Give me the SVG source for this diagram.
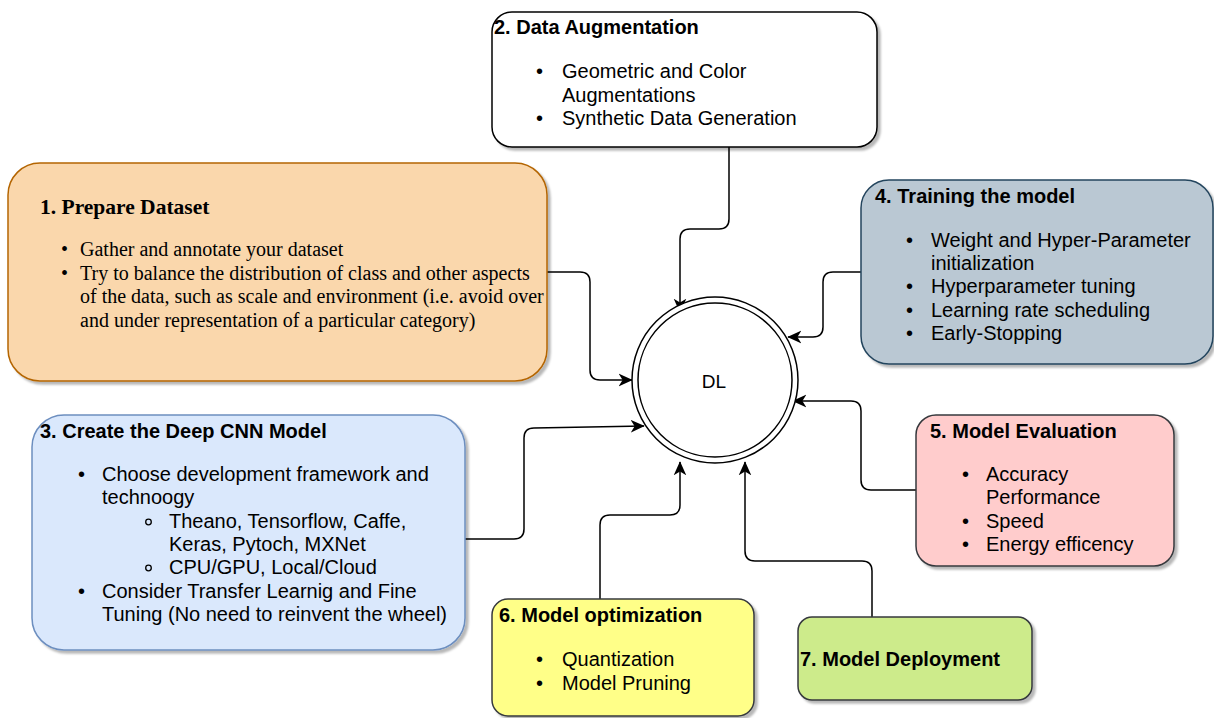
<svg xmlns="http://www.w3.org/2000/svg" width="1214" height="718" viewBox="0 0 1214 718">
<style>
.box{stroke-width:1.5;filter:url(#sh)}
.sans{font-family:"Liberation Sans",Arial,sans-serif;font-size:20px;fill:#000}
.serif{font-family:"Liberation Serif","Times New Roman",serif;font-size:20px;fill:#000}
.b{font-weight:bold}
.sub{fill:none;stroke:#000;stroke-width:1.3}
.conn{fill:none;stroke:#000;stroke-width:1.5}
</style>
<defs>
<filter id="sh" x="-5%" y="-5%" width="115%" height="120%">
<feDropShadow dx="3" dy="3" stdDeviation="0.8" flood-color="#000" flood-opacity="0.28"/>
</filter>
<marker id="arr" viewBox="0 0 10 10" refX="9.5" refY="5" markerWidth="14" markerHeight="14" markerUnits="userSpaceOnUse" orient="auto">
<path d="M0,0.5 L10,5 L0,9.5 L2.8,5 Z" fill="#000"/>
</marker>
</defs>
<rect width="1214" height="718" fill="#fff"/>

<g id="connectors">
<path class="conn" marker-end="url(#arr)" d="M729 147 V219 Q729 229 719 229 H690 Q680 229 680 239 V312"/>
<path class="conn" marker-end="url(#arr)" d="M547 272 H580 Q590 272 590 282 V370 Q590 380 600 380 H632"/>
<path class="conn" marker-end="url(#arr)" d="M861 272 H833 Q823 272 823 282 V327 Q823 337 813 337 H788"/>
<path class="conn" marker-end="url(#arr)" d="M916 490 H871 Q861 490 861 480 V411 Q861 401 851 401 H793"/>
<path class="conn" marker-end="url(#arr)" d="M465 539 H514 Q524 539 524 529 V438 Q524 428 534 428 L644 426"/>
<path class="conn" marker-end="url(#arr)" d="M600 599 V525 Q600 515 610 515 H670 Q680 515 680 505 V462"/>
<path class="conn" marker-end="url(#arr)" d="M872 617 V571 Q872 561 862 561 H755 Q745 561 745 551 V462"/>
</g>

<g id="node-dl">
<circle cx="715" cy="380" r="83" fill="#fff" stroke="#000" stroke-width="1.5"/>
<circle cx="715" cy="380" r="77" fill="#fff" stroke="#000" stroke-width="1.5"/>
<text class="sans" x="714" y="388" text-anchor="middle" style="font-size:19px">DL</text>
</g>

<g id="node-1">
<rect class="box" x="8" y="163" width="539" height="218" rx="32" fill="#fad7ac" stroke="#b46504"/>
<text class="serif b" x="40" y="214" style="font-size:21.5px">1. Prepare Dataset</text>
<text class="serif" x="61" y="256">•</text>
<text class="serif" x="80" y="256">Gather and annotate your dataset</text>
<text class="serif" x="61" y="280">•</text>
<text class="serif" x="80" y="280">Try to balance the distribution of class and other aspects</text>
<text class="serif" x="80" y="303">of the data, such as scale and environment (i.e. avoid over</text>
<text class="serif" x="80" y="327">and under representation of a particular category)</text>
</g>

<g id="node-2">
<rect class="box" x="492" y="12" width="385" height="135" rx="20" fill="#fff" stroke="#000"/>
<text class="sans b" x="494" y="34">2. Data Augmentation</text>
<text class="sans" x="536" y="78">•</text>
<text class="sans" x="562" y="78">Geometric and Color</text>
<text class="sans" x="562" y="102">Augmentations</text>
<text class="sans" x="536" y="125">•</text>
<text class="sans" x="562" y="125">Synthetic Data Generation</text>
</g>

<g id="node-4">
<rect class="box" x="861" y="180" width="352" height="184" rx="28" fill="#bac8d3" stroke="#23445d"/>
<text class="sans b" x="875" y="203">4. Training the model</text>
<text class="sans" x="906" y="247">•</text>
<text class="sans" x="931" y="247">Weight and Hyper-Parameter</text>
<text class="sans" x="931" y="270">initialization</text>
<text class="sans" x="906" y="293">•</text>
<text class="sans" x="931" y="293">Hyperparameter tuning</text>
<text class="sans" x="906" y="317">•</text>
<text class="sans" x="931" y="317">Learning rate scheduling</text>
<text class="sans" x="906" y="340">•</text>
<text class="sans" x="931" y="340">Early-Stopping</text>
</g>

<g id="node-3">
<rect class="box" x="32" y="415" width="433" height="235" rx="32" fill="#dae8fc" stroke="#6c8ebf"/>
<text class="sans b" x="40" y="438">3. Create the Deep CNN Model</text>
<text class="sans" x="78" y="481">•</text>
<text class="sans" x="102" y="481">Choose development framework and</text>
<text class="sans" x="102" y="504">technoogy</text>
<circle class="sub" cx="148.5" cy="522" r="2.8"/>
<text class="sans" x="169" y="528">Theano, Tensorflow, Caffe,</text>
<text class="sans" x="169" y="551">Keras, Pytoch, MXNet</text>
<circle class="sub" cx="148.5" cy="568" r="2.8"/>
<text class="sans" x="169" y="574">CPU/GPU, Local/Cloud</text>
<text class="sans" x="78" y="598">•</text>
<text class="sans" x="102" y="598">Consider Transfer Learnig and Fine</text>
<text class="sans" x="102" y="621">Tuning (No need to reinvent the wheel)</text>
</g>

<g id="node-5">
<rect class="box" x="916" y="415" width="258" height="151" rx="20" fill="#ffcccc" stroke="#36393d"/>
<text class="sans b" x="930" y="438">5. Model Evaluation</text>
<text class="sans" x="962" y="481">•</text>
<text class="sans" x="986" y="481">Accuracy</text>
<text class="sans" x="986" y="504">Performance</text>
<text class="sans" x="962" y="528">•</text>
<text class="sans" x="986" y="528">Speed</text>
<text class="sans" x="962" y="551">•</text>
<text class="sans" x="986" y="551">Energy efficency</text>
</g>

<g id="node-6">
<rect class="box" x="492" y="599" width="262" height="117" rx="16" fill="#ffff88" stroke="#36393d"/>
<text class="sans b" x="499" y="622">6. Model optimization</text>
<text class="sans" x="536" y="666">•</text>
<text class="sans" x="562" y="666">Quantization</text>
<text class="sans" x="536" y="690">•</text>
<text class="sans" x="562" y="690">Model Pruning</text>
</g>

<g id="node-7">
<rect class="box" x="798" y="617" width="234" height="83" rx="14" fill="#cdeb8b" stroke="#36393d"/>
<text class="sans b" x="800" y="666">7. Model Deployment</text>
</g>
</svg>
